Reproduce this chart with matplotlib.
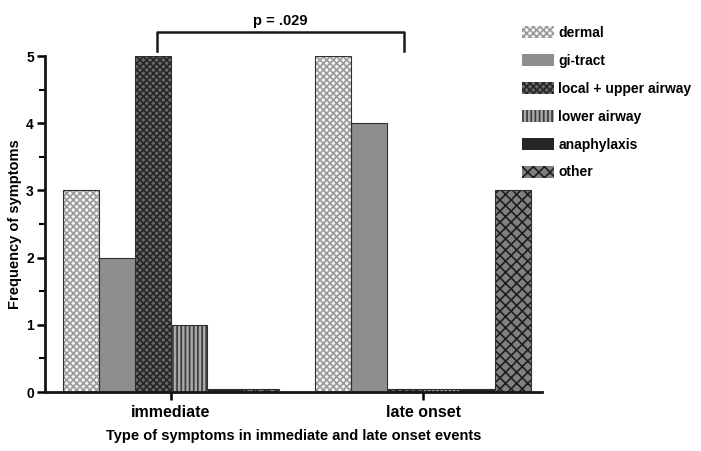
import matplotlib
matplotlib.use("Agg")
import matplotlib.pyplot as plt
import numpy as np
from matplotlib.patches import Patch
from matplotlib.ticker import MultipleLocator

plt.rcParams['font.family'] = ['Liberation Sans', 'DejaVu Sans']
plt.rcParams['font.weight'] = 'bold'
plt.rcParams['hatch.linewidth'] = 1.2

groups = ["immediate", "late onset"]
series = ["dermal", "gi-tract", "local + upper airway", "lower airway", "anaphylaxis", "other"]
dermal = [3, 5]
gi_tract = [2, 4]
local_upper = [5, 0]
lower_airway = [1, 0]
anaphylaxis = [0, 0]
other = [0, 3]
values = [dermal, gi_tract, local_upper, lower_airway, anaphylaxis, other]
p_text = "p = .029"

styles = [
    dict(facecolor="#f4f4f4", hatch="xxxxx", hcolor="#9a9a9a"),
    dict(facecolor="#8e8e8e", hatch=None, hcolor="#8e8e8e"),
    dict(facecolor="#6a6a6a", hatch="xxxxx", hcolor="#262626"),
    dict(facecolor="#a8a8a8", hatch="||||", hcolor="#3a3a3a"),
    dict(facecolor="#262626", hatch=None, hcolor="#262626"),
    dict(facecolor="#808080", hatch="xxx", hcolor="#1e1e1e"),
]

fig = plt.figure(figsize=(7.01, 4.51), dpi=100)
ax = fig.add_axes([0.0642, 0.1308, 0.7088, 0.745])

centers = np.array([0.0, 7.0])
width = 1.0
zero_floor = 0.045
for i, (vals, st) in enumerate(zip(values, styles)):
    x = centers + (i - 2.5) * width
    h = np.maximum(np.array(vals, dtype=float), zero_floor)
    ax.bar(x, h, width=width, color=st["facecolor"], edgecolor=st["hcolor"],
           hatch=st["hatch"], linewidth=0, zorder=2)
    ax.bar(x, h, width=width, fill=False, edgecolor="#303030", linewidth=0.8, zorder=3)

ax.set_xlim(-3.5, 10.3)
ax.set_ylim(0, 5)
ax.set_xticks(centers)
ax.set_xticklabels(groups, fontsize=11.5, fontweight='bold')
ax.yaxis.set_major_locator(MultipleLocator(1))
ax.yaxis.set_minor_locator(MultipleLocator(0.5))
ax.tick_params(axis='y', which='major', length=6, width=1.8, labelsize=10, pad=2)
ax.tick_params(axis='y', which='minor', length=4, width=1.5)
ax.tick_params(axis='x', length=6, width=1.8, pad=3)
for s in ['top', 'right']:
    ax.spines[s].set_visible(False)
for s in ['left', 'bottom']:
    ax.spines[s].set_linewidth(2)
    ax.spines[s].set_color("#151515")
ax.set_ylabel("Frequency of symptoms", fontsize=10.5, fontweight='bold', labelpad=3)
ax.set_xlabel("Type of symptoms in immediate and late onset events", fontsize=10.5,
              fontweight='bold', labelpad=7)

# significance bracket
bx0, bx1, by, bdrop = -0.39, 6.47, 5.36, 5.07
ax.plot([bx0, bx0, bx1, bx1], [bdrop, by, by, bdrop], color="#1a1a1a", lw=1.8,
        clip_on=False, zorder=5)
ax.text((bx0 + bx1) / 2, by + 0.06, p_text, ha='center', va='bottom',
        fontsize=10.5, fontweight='bold')

handles = [Patch(facecolor=st["facecolor"], edgecolor=st["hcolor"], hatch=st["hatch"],
                 linewidth=0) for st in styles]
leg = fig.legend(handles, series, loc='upper left', bbox_to_anchor=(0.727, 0.97),
                 frameon=False, fontsize=10, handlelength=2.3, handleheight=0.95,
                 labelspacing=1.0, handletextpad=0.3)
for t in leg.get_texts():
    t.set_fontweight('bold')

fig.savefig("out.png", dpi=100)
